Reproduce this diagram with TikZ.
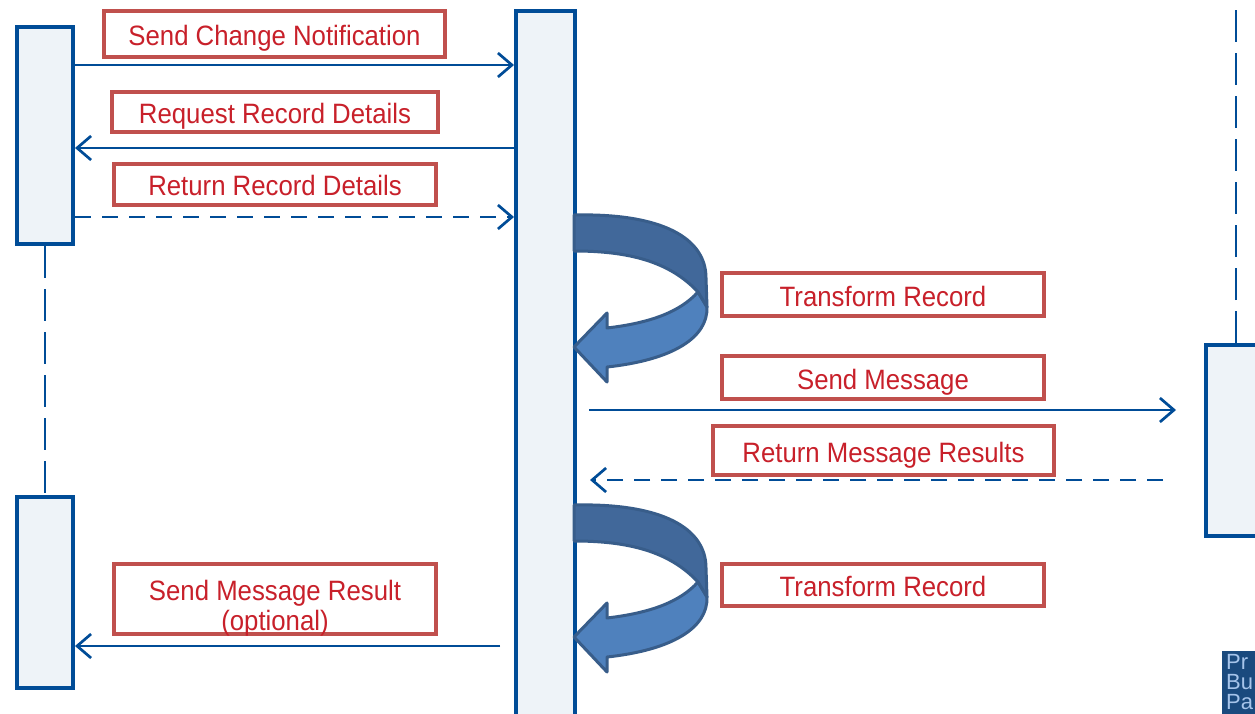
\documentclass[tikz,border=0pt]{standalone}
\usepackage{fontspec}
\setmainfont{Liberation Sans}
\newfontfamily\lblfont[FakeStretch=0.92]{Liberation Sans}
\usetikzlibrary{arrows.meta}
\definecolor{lblue}{HTML}{004C97}
\definecolor{boxfill}{HTML}{EEF3F8}
\definecolor{lred}{HTML}{C0504D}
\definecolor{ltext}{HTML}{C8202A}
\definecolor{turndark}{HTML}{41689A}
\definecolor{turnlight}{HTML}{4F81BD}
\definecolor{turnline}{HTML}{385D8A}
\definecolor{logoblue}{HTML}{1A4A7E}
\definecolor{logotext}{HTML}{A6C4EA}
\begin{document}
\begin{tikzpicture}[x=1pt,y=-1pt,
  life/.style={draw=lblue, line width=4pt, fill=boxfill, rectangle, inner sep=0pt, anchor=north west},
  lbl/.style={draw=lred, line width=3.5pt, fill=white, inner sep=0pt},
  lbltext/.style={text=ltext, inner sep=0pt, align=center, anchor=base, font=\lblfont\fontsize{28}{30}\selectfont},
  msg/.style={draw=lblue, line width=2.7pt, -{Straight Barb[length=14pt,width=24pt]}},
  ret/.style={msg, dash pattern=on 16pt off 11pt},
  lifeline/.style={draw=lblue, line width=2.7pt, dash pattern=on 32pt off 11pt},
  turnd/.style={fill=turndark, draw=turnline, line width=3pt, line join=round},
  turnl/.style={fill=turnlight, draw=turnline, line width=3pt, line join=round}]
\useasboundingbox (0,0) rectangle (1255,714);
\clip (0,0) rectangle (1255,714);
\fill[white] (0,0) rectangle (1255,714);

% lifeline boxes
\node[life, minimum width=56pt, minimum height=217pt] (lt) at (15,25) {};
\node[life, minimum width=56pt, minimum height=191pt] (lb) at (15,495) {};
\node[life, minimum width=59pt, minimum height=740pt] (mid) at (514,9) {};
\node[life, minimum width=60pt, minimum height=191pt] (rt) at (1204,343) {};
\coordinate (top) at (0,-5);

% dashed lifelines
\draw[lifeline] (lt.south) -- (lb.north);
\draw[lifeline] (rt.north) -- (rt.north |- top);

% labels
\node[lbl, minimum width=341pt, minimum height=46pt] (l1) at (274.5,34) {};
\node[lbltext] (t1) at ([yshift=-11.5pt]l1.center) {Send Change Notification};
\node[lbl, minimum width=326pt, minimum height=40pt] (l2) at (275,112) {};
\node[lbltext] (t2) at ([yshift=-11.5pt]l2.center) {Request Record Details};
\node[lbl, minimum width=322pt, minimum height=41pt] (l3) at (275,184.5) {};
\node[lbltext] (t3) at ([yshift=-11.5pt]l3.center) {Return Record Details};
\node[lbl, minimum width=322pt, minimum height=43pt] (l4) at (883,294.5) {};
\node[lbltext] (t4) at ([yshift=-11.5pt]l4.center) {Transform Record};
\node[lbl, minimum width=322pt, minimum height=43pt] (l5) at (883,377.5) {};
\node[lbltext] (t5) at ([yshift=-11.5pt]l5.center) {Send Message};
\node[lbl, minimum width=341pt, minimum height=49pt] (l6) at (883.5,450.5) {};
\node[lbltext] (t6) at ([yshift=-11.5pt]l6.center) {Return Message Results};
\node[lbl, minimum width=322pt, minimum height=42pt] (l7) at (883,585) {};
\node[lbltext] (t7) at ([yshift=-11.5pt]l7.center) {Transform Record};
\node[lbl, minimum width=322pt, minimum height=70pt] (l8) at (275,599) {};
\node[lbltext, anchor=center] (t8) at (275,608) {Send Message Result\\(optional)};

% message rows
\coordinate (y1) at (0,65);
\coordinate (y2) at (0,148);
\coordinate (y3) at (0,217);
\coordinate (y4) at (0,410);
\coordinate (y5) at (0,480);
\coordinate (y6) at (0,646);

\draw[msg] (lt.east |- y1) -- (mid.west |- y1);
\draw[msg] (mid.west |- y2) -- (lt.east |- y2);
\draw[ret] (lt.east |- y3) -- (mid.west |- y3);
\draw[msg] ([xshift=12pt]mid.east |- y4) -- ([xshift=-28pt]rt.west |- y4);
\draw[ret] ([xshift=-41pt]rt.west |- y5) -- ([xshift=13pt]mid.east |- y5);
\draw[msg] ([xshift=-14pt]mid.west |- y6) -- (lb.east |- y6);

% curved self arrows
\foreach \dy in {0,290}{
\begin{scope}[shift={(0,\dy)}]
  \path[turnl] (698,292) .. controls (680,312) and (650,323) .. (607,328)
     -- (607,313) -- (574,347) -- (607,382) -- (607,367)
     .. controls (672,360) and (708,338) .. (707,307) -- cycle;
  \path[turnd] (574,215) .. controls (662,213) and (706,238) .. (706,278)
     -- (707,307) -- (698,292) .. controls (670,262) and (630,251) .. (574,251) -- cycle;
\end{scope}}

% logo corner
\fill[logoblue] (1222,651) rectangle (1260,720);
\begin{scope}
\clip (1222,651) rectangle (1255,714);
\node[anchor=north west, inner sep=0pt, text=logotext, align=left, font=\fontsize{22}{20}\selectfont] (logo) at (1226,654) {Pr\\Bu\\Pa};
\end{scope}
\end{tikzpicture}
\end{document}
